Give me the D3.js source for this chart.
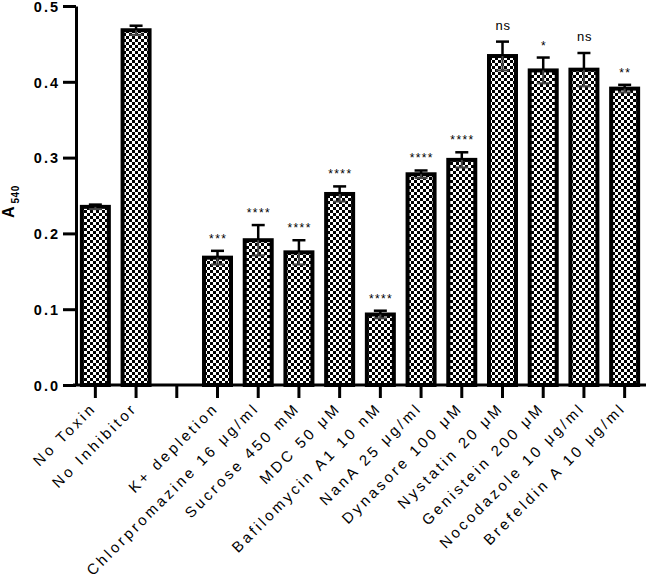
<!DOCTYPE html>
<html>
<head>
<meta charset="utf-8">
<script src="https://cdn.jsdelivr.net/npm/d3@7"></script>
<style>
  body { margin: 0; background: #fff; }
  svg { display: block; font-family: Arial, "Liberation Sans", sans-serif; }
</style>
</head>
<body>
<div id="content"></div>
<script>
// groups on the x axis ('' is the empty slot between controls and inhibitors)
const CATEGORIES = ['No Toxin', 'No Inhibitor', '', 'K+ depletion', 'Chlorpromazine 16 \u03bcg/ml',
    'Sucrose 450 mM', 'MDC 50 \u03bcM', 'Bafilomycin A1 10 nM', 'NanA 25 \u03bcg/ml',
    'Dynasore 100 \u03bcM', 'Nystatin 20 \u03bcM', 'Genistein 200 \u03bcM',
    'Nocodazole 10 \u03bcg/ml', 'Brefeldin A 10 \u03bcg/ml'];
const MEANS = [0.235, 0.468, null, 0.168, 0.191, 0.175, 0.252, 0.093, 0.278, 0.297, 0.434, 0.415, 0.416, 0.391];
const ERRORS = [0.003, 0.006, null, 0.009, 0.020, 0.016, 0.010, 0.005, 0.005, 0.010, 0.019, 0.017, 0.022, 0.005];
const SIGNIF = ['', '', '', '***', '****', '****', '****', '****', '****', '****', 'ns', '*', 'ns', '**'];
const Y_TICKS = [0.0, 0.1, 0.2, 0.3, 0.4, 0.5];

var width = 650;
var height = 579;

var data = CATEGORIES.map(function (c, i) {
    return {key: i, label: c, mean: MEANS[i], err: ERRORS[i], sig: SIGNIF[i]};
});

var svg = d3.select('#content')
.append('svg')
.attr('width', width)
.attr('height', height);

var defs = svg.append('defs');
var pat = defs.append('pattern')
.attr('id', 'checker')
.attr('patternUnits', 'userSpaceOnUse')
.attr('width', 6)
.attr('height', 6);
pat.append('rect').attr('width', 6).attr('height', 6).attr('fill', '#fff');
pat.append('rect').attr('width', 3).attr('height', 3).attr('fill', '#000');
pat.append('rect').attr('x', 3).attr('y', 3).attr('width', 3).attr('height', 3).attr('fill', '#000');

var xScale = d3.scaleBand()
.domain(data.map(function (d) {return d.key}))
.range([75, 645])
.paddingInner(0.337)
.paddingOuter(0.1685);

var yScale = d3.scaleLinear()
.domain([0, 0.5])
.range([385, 6]);

var bars = data.filter(function (d) {return d.mean !== null});

// bars
svg.selectAll('.bar')
.data(bars)
.enter()
.append('rect')
.attr('class', 'bar')
.attr('x', function (d) {return xScale(d.key)})
.attr('y', function (d) {return yScale(d.mean)})
.attr('width', xScale.bandwidth())
.attr('height', function (d) {return yScale(0) - yScale(d.mean)})
.attr('fill', 'url(#checker)')
.attr('stroke', '#000')
.attr('stroke-width', 4);

// error bars
var cx = function (d) {return xScale(d.key) + xScale.bandwidth() / 2};
var err = svg.append('g').attr('class', 'errors');

err.selectAll('.err-up')
.data(bars)
.enter()
.append('line')
.attr('x1', cx).attr('x2', cx)
.attr('y1', function (d) {return yScale(d.mean + d.err)})
.attr('y2', function (d) {return yScale(d.mean)})
.attr('stroke', '#000')
.attr('stroke-width', 2.5);

err.selectAll('.err-down')
.data(bars)
.enter()
.append('line')
.attr('x1', cx).attr('x2', cx)
.attr('y1', function (d) {return yScale(d.mean)})
.attr('y2', function (d) {return yScale(d.mean - d.err)})
.attr('stroke', '#444')
.attr('stroke-width', 2);

err.selectAll('.cap-up')
.data(bars)
.enter()
.append('line')
.attr('x1', function (d) {return cx(d) - 6.5})
.attr('x2', function (d) {return cx(d) + 6.5})
.attr('y1', function (d) {return yScale(d.mean + d.err)})
.attr('y2', function (d) {return yScale(d.mean + d.err)})
.attr('stroke', '#000')
.attr('stroke-width', 2.5);

err.selectAll('.cap-down')
.data(bars)
.enter()
.append('line')
.attr('x1', function (d) {return cx(d) - 6.5})
.attr('x2', function (d) {return cx(d) + 6.5})
.attr('y1', function (d) {return yScale(d.mean - d.err)})
.attr('y2', function (d) {return yScale(d.mean - d.err)})
.attr('stroke', '#444')
.attr('stroke-width', 2);

// significance marks
svg.selectAll('.sig')
.data(bars.filter(function (d) {return d.sig}))
.enter()
.append('text')
.attr('class', 'sig')
.attr('x', function (d) {return cx(d) + 0.7})
.attr('y', function (d) {
    return yScale(d.mean + d.err) - (d.sig === 'ns' ? 12 : 8);
})
.attr('text-anchor', 'middle')
.attr('font-size', function (d) {return d.sig === 'ns' ? 13 : 12})
.attr('letter-spacing', function (d) {return d.sig === 'ns' ? 0.8 : 1.4})
.text(function (d) {return d.sig});

// y axis
var yAxis = d3.axisLeft(yScale)
.tickValues(Y_TICKS)
.tickFormat(d3.format('.1f'))
.tickSizeOuter(0)
.tickSizeInner(13)
.tickPadding(5);

var gy = svg.append('g')
.attr('class', 'y-axis')
.attr('transform', 'translate(76, 0)')
.call(yAxis);
gy.select('.domain').attr('stroke-width', 3);
gy.selectAll('.tick line').attr('stroke-width', 3);
gy.selectAll('.tick text')
.attr('font-family', 'Arial, "Liberation Sans", sans-serif')
.attr('font-size', 14.5)
.attr('font-weight', 'bold')
.attr('letter-spacing', 2)
.attr('dy', '0.36em')
.attr('x', -16);

// x axis
var xAxis = d3.axisBottom(xScale)
.tickSizeOuter(0)
.tickSizeInner(13)
.tickFormat(function (k) {return CATEGORIES[k]});

var gx = svg.append('g')
.attr('class', 'x-axis')
.attr('transform', 'translate(0, 385)')
.call(xAxis);
gx.select('.domain').attr('stroke-width', 3).attr('d', 'M73,0H646');
gx.selectAll('.tick line').attr('stroke-width', 3);
gx.selectAll('.tick text')
.attr('font-family', 'Arial, "Liberation Sans", sans-serif')
.attr('font-size', 15)
.attr('letter-spacing', 3)
.attr('text-anchor', 'end')
.attr('dy', null)
.attr('y', 0)
.attr('transform', 'translate(2, 24) rotate(-45)');

// y axis title
var title = svg.append('text')
.attr('transform', 'translate(14, 218) rotate(-90)')
.attr('font-weight', 'bold')
.attr('font-size', 16);
title.append('tspan').text('A');
title.append('tspan')
.attr('font-size', 10)
.attr('dx', 3)
.attr('dy', 5)
.attr('letter-spacing', 0.5)
.text('540');
</script>
</body>
</html>
